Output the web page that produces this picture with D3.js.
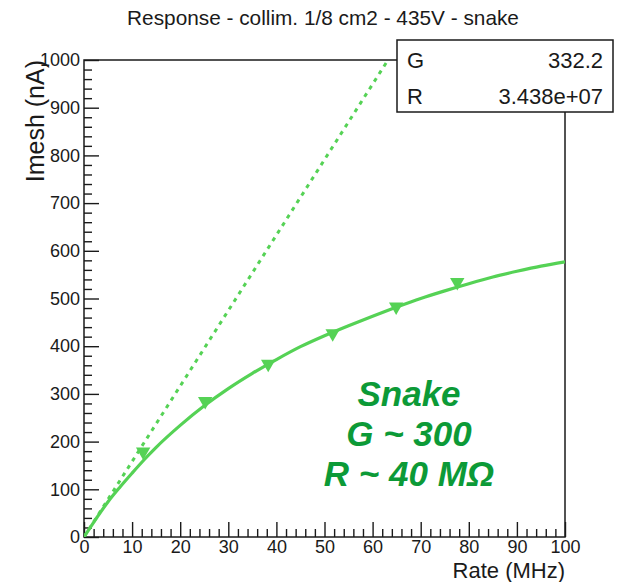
<!DOCTYPE html>
<html>
<head>
<meta charset="utf-8">
<script src="https://cdn.jsdelivr.net/npm/d3@7"></script>
<style>
  html, body { margin: 0; padding: 0; background: #fff; }
  svg { display: block; font-family: "Liberation Sans", Arial, Helvetica, sans-serif; }
</style>
</head>
<body>
<svg id="chart" width="621" height="582"></svg>
<script>
// Measured response points (rate in MHz, mesh current in nA)
const rateMHz = [12.3, 25.2, 38.3, 51.7, 64.9, 77.6];
const imeshNA = [179, 285, 363, 427, 483, 534];

// Saturating fit curve, sampled along the rate axis
const fitRate  = [0, 2.5, 5, 7.5, 10, 12.5, 15, 20, 25, 30, 35, 40, 45, 50, 55, 60, 65, 70, 75, 80, 85, 90, 95, 100];
const fitImesh = [0, 38, 74, 105, 134, 162, 188, 234, 275, 311, 343, 372, 399, 422, 443, 463, 482, 500, 516, 531, 545, 557, 568, 577];

// Linear (no-saturation) response
const linRate  = [0, 63.2];
const linImesh = [0, 1000];

// Axis ticks
const xTicks = [0, 10, 20, 30, 40, 50, 60, 70, 80, 90, 100];
const xTickLabels = ["0", "10", "20", "30", "40", "50", "60", "70", "80", "90", "100"];
const yTicks = [0, 100, 200, 300, 400, 500, 600, 700, 800, 900, 1000];
const yTickLabels = ["0", "100", "200", "300", "400", "500", "600", "700", "800", "900", "1000"];

// Fit statistics box
const statNames  = ["G", "R"];
const statValues = ["332.2", "3.438e+07"];

// Annotation lines
const noteLines = ["Snake", "G ~ 300", "R ~ 40 MΩ"];

const titleText = "Response - collim. 1/8 cm2 - 435V - snake";
const xTitle = "Rate (MHz)";
const yTitle = "Imesh (nA)";

const lightGreen = "#55d255";
const darkGreen = "#0c9a37";
const ink = "#1a1a1a";

const svg = d3.select("#chart");

const x = d3.scaleLinear().domain([0, 100]).range([84, 565]);
const y = d3.scaleLinear().domain([0, 1000]).range([537, 60]);

// Title
svg.append("text")
  .attr("x", 323).attr("y", 25)
  .attr("text-anchor", "middle")
  .attr("font-size", 20.8)
  .attr("fill", ink)
  .text(titleText);

// Clip region for data
svg.append("clipPath").attr("id", "plotclip")
  .append("rect")
  .attr("x", x(0)).attr("y", y(1000) - 2)
  .attr("width", x(100) - x(0)).attr("height", y(0) - y(1000) + 2);

// Minor ticks
const xMinor = d3.range(0, 101, 2).filter(v => v % 10 !== 0);
const yMinor = d3.range(0, 1001, 20).filter(v => v % 100 !== 0);

svg.append("g")
  .attr("transform", `translate(0,${y(0)})`)
  .call(d3.axisBottom(x).tickValues(xMinor).tickSize(-8).tickFormat(""))
  .call(g => g.select(".domain").remove())
  .call(g => g.selectAll("line").attr("stroke", ink).attr("stroke-width", 1.4));

svg.append("g")
  .attr("transform", `translate(${x(0)},0)`)
  .call(d3.axisLeft(y).tickValues(yMinor).tickSize(-8).tickFormat(""))
  .call(g => g.select(".domain").remove())
  .call(g => g.selectAll("line").attr("stroke", ink).attr("stroke-width", 1.4));

// Major ticks with labels
svg.append("g")
  .attr("transform", `translate(0,${y(0)})`)
  .call(d3.axisBottom(x).tickValues(xTicks).tickSize(-15).tickPadding(3)
        .tickFormat((d, i) => xTickLabels[i]))
  .call(g => g.select(".domain").remove())
  .call(g => g.selectAll("line").attr("stroke", ink).attr("stroke-width", 1.4))
  .call(g => g.selectAll("text").attr("font-size", 18).attr("fill", ink)
        .attr("font-family", "Liberation Sans, Arial, sans-serif"));

svg.append("g")
  .attr("transform", `translate(${x(0)},0)`)
  .call(d3.axisLeft(y).tickValues(yTicks).tickSize(-15).tickPadding(4)
        .tickFormat((d, i) => yTickLabels[i]))
  .call(g => g.select(".domain").remove())
  .call(g => g.selectAll("line").attr("stroke", ink).attr("stroke-width", 1.4))
  .call(g => g.selectAll("text").attr("font-size", 18).attr("fill", ink)
        .attr("font-family", "Liberation Sans, Arial, sans-serif"));

// Frame
svg.append("rect")
  .attr("x", x(0)).attr("y", y(1000))
  .attr("width", x(100) - x(0)).attr("height", y(0) - y(1000))
  .attr("fill", "none").attr("stroke", ink).attr("stroke-width", 1.5);

// Axis titles
svg.append("text")
  .attr("x", x(100)).attr("y", 577.5)
  .attr("text-anchor", "end")
  .attr("font-size", 22)
  .attr("fill", ink)
  .text(xTitle);

svg.append("text")
  .attr("transform", `translate(44,${y(1000)}) rotate(-90)`)
  .attr("text-anchor", "end")
  .attr("font-size", 25)
  .attr("fill", ink)
  .text(yTitle);

const plot = svg.append("g").attr("clip-path", "url(#plotclip)");

// Linear response (dotted)
const linPts = linRate.map((r, i) => [r, linImesh[i]]);
plot.append("path")
  .datum(linPts)
  .attr("d", d3.line().x(d => x(d[0])).y(d => y(d[1])))
  .attr("fill", "none")
  .attr("stroke", lightGreen)
  .attr("stroke-width", 3)
  .attr("stroke-dasharray", "4,5");

// Fit curve
const fitPts = fitRate.map((r, i) => [r, fitImesh[i]]);
plot.append("path")
  .datum(fitPts)
  .attr("d", d3.line().curve(d3.curveMonotoneX).x(d => x(d[0])).y(d => y(d[1])))
  .attr("fill", "none")
  .attr("stroke", lightGreen)
  .attr("stroke-width", 3.2);

// Data markers (downward triangles)
const tri = d3.symbol().type(d3.symbolTriangle).size(90);
plot.selectAll("path.marker")
  .data(rateMHz.map((r, i) => [r, imeshNA[i]]))
  .join("path")
  .attr("class", "marker")
  .attr("d", tri)
  .attr("transform", d => `translate(${x(d[0])},${y(d[1])}) rotate(180)`)
  .attr("fill", lightGreen);

// Statistics box
const box = svg.append("g");
box.append("rect")
  .attr("x", 397).attr("y", 40).attr("width", 216).attr("height", 72)
  .attr("fill", "#fff").attr("stroke", ink).attr("stroke-width", 1.5);
statNames.forEach((n, i) => {
  box.append("text")
    .attr("x", 407).attr("y", 68 + i * 36)
    .attr("font-size", 22).attr("fill", ink)
    .text(n);
  box.append("text")
    .attr("x", 603).attr("y", 68 + i * 36)
    .attr("text-anchor", "end")
    .attr("font-size", 22).attr("fill", ink)
    .text(statValues[i]);
});

// Annotation
svg.append("g").selectAll("text")
  .data(noteLines)
  .join("text")
  .attr("x", 409)
  .attr("y", (d, i) => 406 + i * 40)
  .attr("text-anchor", "middle")
  .attr("font-size", 35)
  .attr("font-weight", "bold")
  .attr("font-style", "italic")
  .attr("fill", darkGreen)
  .text(d => d);
</script>
</body>
</html>
